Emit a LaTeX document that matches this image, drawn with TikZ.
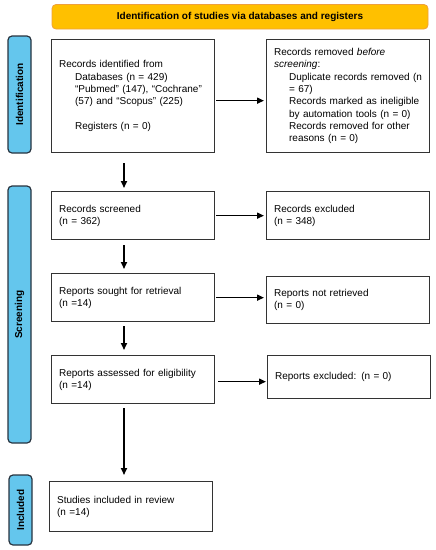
\documentclass[tikz,border=0pt]{standalone}
\usepackage{fontspec}
\setmainfont{Liberation Sans}
\usetikzlibrary{arrows.meta}
\definecolor{phaseblue}{RGB}{100,198,237}
\definecolor{phaseedge}{RGB}{40,52,64}
\definecolor{headfill}{RGB}{255,192,0}
\definecolor{headedge}{RGB}{238,160,60}

\begin{document}
\begin{tikzpicture}[x=1pt, y=-1pt,
        box/.style={draw=black!80, line width=1.3pt, anchor=north west, align=left,
            text width=148pt, inner xsep=7.5pt, inner ysep=0pt,
            font=\fontsize{10}{12.3}\selectfont},
        phase/.style={draw=phaseedge, fill=phaseblue, line width=1.2pt, rounded corners=4pt,
            rotate=90, minimum height=23pt, inner sep=0pt, font=\bfseries\fontsize{10}{12}\selectfont},
        arr/.style={-{Triangle[length=7pt,width=6pt]}, line width=1.6pt}]
        \useasboundingbox (0,0) rectangle (436,550);

        % header and phase bars
        \node[draw=headedge, fill=headfill, line width=0.8pt, rounded corners=4pt,
            minimum width=376pt, minimum height=24.5pt, font=\bfseries\fontsize{10}{12}\selectfont]
            (title) at (240,16.75) {Identification of studies via databases and registers};
        \node[phase, minimum width=117pt] (identbar) at (19.5,94.5) {Identification};
        \node[phase, minimum width=257pt] (screenbar) at (19.5,314.5) {Screening};
        \node[phase, minimum width=70pt] (inclbar) at (20.5,510) {Included};

        % left column
        \node[box, minimum height=113pt] (ident) at (51,39) {Records identified from\\
            \hspace*{16pt}Databases (n = 429)\\
            \hspace*{16pt}“Pubmed” (147), “Cochrane”\\
            \hspace*{16pt}(57) and “Scopus” (225)\\[12.3pt]
            \hspace*{16pt}Registers (n = 0)};
        \node[box, minimum height=48pt] (screened) at (51,191) {Records screened\\(n = 362)};
        \node[box, minimum height=48pt] (sought) at (51,273) {Reports sought for retrieval\\(n =14)};
        \node[box, minimum height=48pt] (assessed) at (51,355) {Reports assessed for eligibility\\(n =14)};
        \node[box, minimum height=50pt] (included) at (49,481) {Studies included in review\\(n =14)};

        % right column
        \node[box, minimum height=113pt] (removed) at (266,39) {Records removed \textit{before}\\
            \textit{screening}:\\
            \hspace*{15pt}Duplicate records removed (n\\
            \hspace*{15pt}= 67)\\
            \hspace*{15pt}Records marked as ineligible\\
            \hspace*{15pt}by automation tools (n = 0)\\
            \hspace*{15pt}Records removed for other\\
            \hspace*{15pt}reasons (n = 0)};
        \node[box, minimum height=48pt] (excluded) at (266,191) {Records excluded\\(n = 348)};
        \node[box, minimum height=47pt] (notretr) at (266,276) {Reports not retrieved\\(n = 0)};
        \node[box, minimum height=43pt] (exclrep) at (267,355) {Reports excluded: (n = 0)};

        % arrows
        \coordinate (spine) at (124,0);
        \draw[arr, shorten <=10pt, shorten >=3pt] (ident.south -| spine) -- (screened.north -| spine);
        \draw[arr, shorten <=5pt, shorten >=4pt] (screened.south -| spine) -- (sought.north -| spine);
        \draw[arr, shorten <=4pt, shorten >=5pt] (sought.south -| spine) -- (assessed.north -| spine);
        \draw[arr, shorten <=4pt, shorten >=6pt] (assessed.south -| spine) -- (included.north -| spine);

        \draw[arr, shorten <=1pt, shorten >=2pt] ([yshift=-4.5pt]ident.east) -- ([yshift=-4.5pt]ident.east -| removed.west);
        \draw[arr, shorten <=1pt, shorten >=2pt] (screened.east) -- (screened.east -| excluded.west);
        \draw[arr, shorten <=1pt, shorten >=2pt] (sought.east) -- (sought.east -| notretr.west);
        \draw[arr, shorten <=3pt, shorten >=1pt] ([yshift=-2pt]assessed.east) -- ([yshift=-2pt]assessed.east -| exclrep.west);
    \end{tikzpicture}
\end{document}
